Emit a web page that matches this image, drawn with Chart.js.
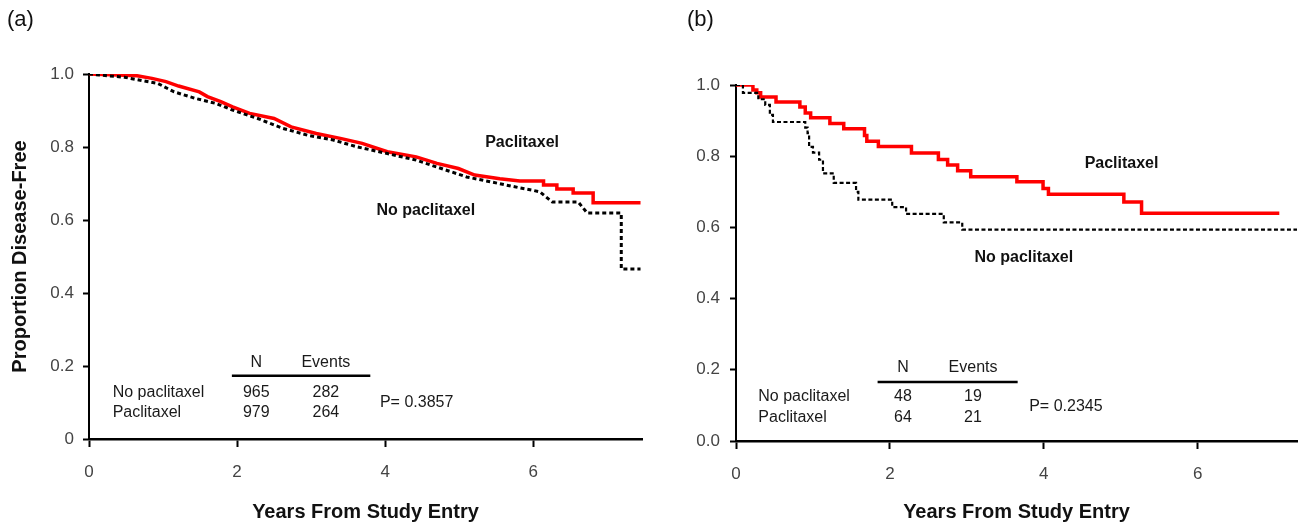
<!DOCTYPE html>
<html lang="en">
  <head>
    <meta charset="UTF-8" />
    <title>Disease-free survival, paclitaxel vs no paclitaxel</title>
    <script src="https://cdn.jsdelivr.net/npm/chart.js@4.4.1/dist/chart.umd.min.js"></script>
    <style>
      body { margin: 0; background: #fff; }
      .panel { position: absolute; top: 0; }
      .tag { position: absolute; top: 6px; font: 22px "Liberation Sans", Arial, sans-serif; color: #111; }
    </style>
  </head>
  <body>
    <div class="panel" style="left:0"><canvas id="chartA" width="650" height="522"></canvas></div>
    <div class="panel" style="left:650px"><canvas id="chartB" width="653" height="522"></canvas></div>
    <div class="tag" style="left:7px">(a)</div>
    <div class="tag" style="left:687px">(b)</div>

<script>
// ---- panel (a): all patients ----
const paclitaxelA_t = [0, 0.3, 0.65, 0.85, 1.04, 1.21, 1.49, 1.6, 1.78, 1.94, 2.17, 2.5, 2.73, 3.07, 3.41, 3.69, 4.03, 4.42, 4.7, 4.99, 5.21, 5.55, 5.82, 6.14, 6.14, 6.32, 6.32, 6.54, 6.54, 6.81, 6.81, 7.45];
const paclitaxelA_s = [1.0, 0.998, 0.995, 0.988, 0.979, 0.967, 0.951, 0.938, 0.924, 0.910, 0.892, 0.878, 0.855, 0.837, 0.823, 0.810, 0.787, 0.773, 0.755, 0.741, 0.723, 0.713, 0.707, 0.707, 0.696, 0.696, 0.685, 0.685, 0.674, 0.674, 0.647, 0.647];
const noPaclitaxelA_t = [0, 0.48, 0.93, 1.15, 1.44, 1.72, 1.94, 2.28, 2.62, 2.96, 3.3, 3.63, 4.03, 4.42, 4.76, 5.1, 5.44, 5.82, 5.98, 6.09, 6.26, 6.61, 6.73, 7.19, 7.19, 7.45];
const noPaclitaxelA_s = [1.0, 0.991, 0.974, 0.951, 0.933, 0.919, 0.901, 0.878, 0.851, 0.832, 0.819, 0.800, 0.782, 0.764, 0.741, 0.718, 0.704, 0.688, 0.682, 0.677, 0.649, 0.649, 0.619, 0.619, 0.466, 0.466];

// ---- panel (b): subgroup ----
const paclitaxelB_t = [0, 0.22, 0.27, 0.32, 0.52, 0.83, 0.9, 0.97, 1.22, 1.4, 1.67, 1.7, 1.85, 2.28, 2.63, 2.75, 2.88, 3.05, 3.65, 3.99, 4.06, 5.04, 5.27, 7.06];
const paclitaxelB_s = [1.0, 0.986, 0.978, 0.966, 0.952, 0.938, 0.921, 0.908, 0.892, 0.877, 0.858, 0.842, 0.827, 0.809, 0.791, 0.775, 0.759, 0.742, 0.728, 0.709, 0.693, 0.671, 0.640, 0.640];
const noPaclitaxelB_t = [0, 0.09, 0.29, 0.38, 0.44, 0.48, 0.9, 0.93, 0.95, 1.0, 1.08, 1.13, 1.27, 1.56, 1.59, 2.03, 2.21, 2.7, 2.94, 7.29];
const noPaclitaxelB_s = [1.0, 0.978, 0.960, 0.944, 0.916, 0.896, 0.880, 0.865, 0.826, 0.810, 0.790, 0.752, 0.725, 0.700, 0.678, 0.657, 0.638, 0.614, 0.594, 0.594];

// table in the corner of each panel
const groups = ['No paclitaxel', 'Paclitaxel'];
const nA = [965, 979];
const eventsA = [282, 264];
const pValueA = '0.3857';
const nB = [48, 64];
const eventsB = [19, 21];
const pValueB = '0.2345';

const yTicks = [0, 0.2, 0.4, 0.6, 0.8, 1.0];
const xTicks = [0, 2, 4, 6];

const FONT = '"Liberation Sans", Arial, sans-serif';
Chart.defaults.font.family = FONT;

function zip(ts, ss) {
  return ts.map((t, i) => ({ x: t, y: ss[i] }));
}

// text and rules placed in data coordinates
const notesPlugin = {
  id: 'notes',
  afterDatasetsDraw(chart, args, opts) {
    const { ctx } = chart;
    const xs = chart.scales.x, ys = chart.scales.y;
    ctx.save();
    ctx.textBaseline = 'middle';
    (opts.items || []).forEach(it => {
      ctx.font = it.font;
      ctx.fillStyle = it.color || '#1a1a1a';
      ctx.textAlign = it.align || 'left';
      ctx.fillText(it.text, xs.getPixelForValue(it.x), ys.getPixelForValue(it.y));
    });
    (opts.rules || []).forEach(r => {
      ctx.strokeStyle = '#000';
      ctx.lineWidth = 2.5;
      ctx.beginPath();
      ctx.moveTo(xs.getPixelForValue(r.x1), ys.getPixelForValue(r.y));
      ctx.lineTo(xs.getPixelForValue(r.x2), ys.getPixelForValue(r.y));
      ctx.stroke();
    });
    ctx.restore();
  }
};

function tableNotes(n, events, p, pos) {
  const small = '16px ' + FONT;
  const bold = 'bold 16px ' + FONT;
  const items = [
    { text: 'N', x: pos.nx, y: pos.head, font: small, align: 'center' },
    { text: 'Events', x: pos.ex, y: pos.head, font: small, align: 'center' },
    { text: 'P= ' + p, x: pos.px, y: pos.py, font: small },
    { text: 'Paclitaxel', x: pos.lab1[0], y: pos.lab1[1], font: bold, align: 'center', color: '#111' },
    { text: 'No paclitaxel', x: pos.lab2[0], y: pos.lab2[1], font: bold, align: 'center', color: '#111' }
  ];
  groups.forEach((g, i) => {
    items.push({ text: g, x: pos.rx, y: pos.rows[i], font: small });
    items.push({ text: String(n[i]), x: pos.nx, y: pos.rows[i], font: small, align: 'center' });
    items.push({ text: String(events[i]), x: pos.ex, y: pos.rows[i], font: small, align: 'center' });
  });
  return { items, rules: [{ x1: pos.r1, x2: pos.r2, y: pos.line }] };
}

function makeChart(id, cfg) {
  const ctx = document.getElementById(id).getContext('2d');
  return new Chart(ctx, {
    type: 'line',
    data: {
      datasets: [
        {
          label: 'No paclitaxel',
          data: cfg.noPac,
          borderColor: '#000',
          borderWidth: cfg.dashWidth,
          borderDash: cfg.dash,
          pointRadius: 0,
          stepped: cfg.stepped,
          fill: false
        },
        {
          label: 'Paclitaxel',
          data: cfg.pac,
          borderColor: '#ff0000',
          borderWidth: cfg.redWidth,
          pointRadius: 0,
          stepped: cfg.stepped,
          fill: false
        }
      ]
    },
    options: {
      responsive: false,
      animation: false,
      layout: { padding: { top: cfg.top, right: cfg.right, left: 0, bottom: 0 } },
      plugins: {
        legend: { display: false },
        tooltip: { enabled: false },
        notes: cfg.notes
      },
      scales: {
        x: {
          type: 'linear',
          min: 0,
          max: cfg.xMax,
          afterBuildTicks: s => { s.ticks = xTicks.map(v => ({ value: v })); },
          afterFit: s => { s.height = cfg.xHeight; },
          ticks: { color: '#444', font: { size: 17 }, padding: 15, callback: v => String(v) },
          grid: { drawOnChartArea: false, tickLength: 8, tickColor: '#000', tickWidth: 2 },
          border: { color: '#000', width: 2.5 },
          title: {
            display: true,
            text: 'Years From Study Entry',
            font: { size: 20, weight: 'bold', lineHeight: 1 },
            color: '#111',
            padding: { top: 0, bottom: 0 }
          }
        },
        y: {
          min: 0,
          max: 1,
          afterBuildTicks: s => { s.ticks = yTicks.map(v => ({ value: v })); },
          afterFit: s => { s.width = cfg.yWidth; },
          ticks: { color: '#444', font: { size: 17 }, padding: cfg.yPad, callback: cfg.yLabel },
          grid: { drawOnChartArea: false, tickLength: 6, tickColor: '#000', tickWidth: 2 },
          border: { color: '#000', width: 2 },
          title: {
            display: cfg.yTitle,
            text: 'Proportion Disease-Free',
            font: { size: 20, weight: 'bold', lineHeight: 1 },
            color: '#111',
            padding: { top: 10, bottom: 0 }
          }
        }
      }
    },
    plugins: [notesPlugin]
  });
}

makeChart('chartA', {
  pac: zip(paclitaxelA_t, paclitaxelA_s),
  noPac: zip(noPaclitaxelA_t, noPaclitaxelA_s),
  stepped: false,
  redWidth: 3.5,
  dashWidth: 3,
  dash: [4, 3],
  top: 74,
  right: 8,
  xMax: 7.47,
  xHeight: 83,
  yWidth: 89,
  yPad: 9,
  yTitle: true,
  yLabel: v => (v === 0 ? '0' : v.toFixed(1)),
  notes: tableNotes(nA, eventsA, pValueA, {
    nx: 2.26, ex: 3.2, head: 0.208, line: 0.173, r1: 1.93, r2: 3.8,
    rx: 0.32, rows: [0.126, 0.071], px: 3.93, py: 0.099,
    lab1: [5.85, 0.811], lab2: [4.55, 0.625]
  })
});

makeChart('chartB', {
  pac: zip(paclitaxelB_t, paclitaxelB_s),
  noPac: zip(noPaclitaxelB_t, noPaclitaxelB_s),
  stepped: true,
  redWidth: 3.5,
  dashWidth: 2.2,
  dash: [4, 2.5],
  top: 85,
  right: 6,
  xMax: 7.29,
  xHeight: 81,
  yWidth: 86,
  yPad: 10,
  yTitle: false,
  yLabel: v => v.toFixed(1),
  notes: tableNotes(nB, eventsB, pValueB, {
    nx: 2.17, ex: 3.08, head: 0.205, line: 0.166, r1: 1.84, r2: 3.66,
    rx: 0.29, rows: [0.124, 0.067], px: 3.81, py: 0.096,
    lab1: [5.01, 0.778], lab2: [3.74, 0.514]
  })
});
</script>
  </body>
</html>
